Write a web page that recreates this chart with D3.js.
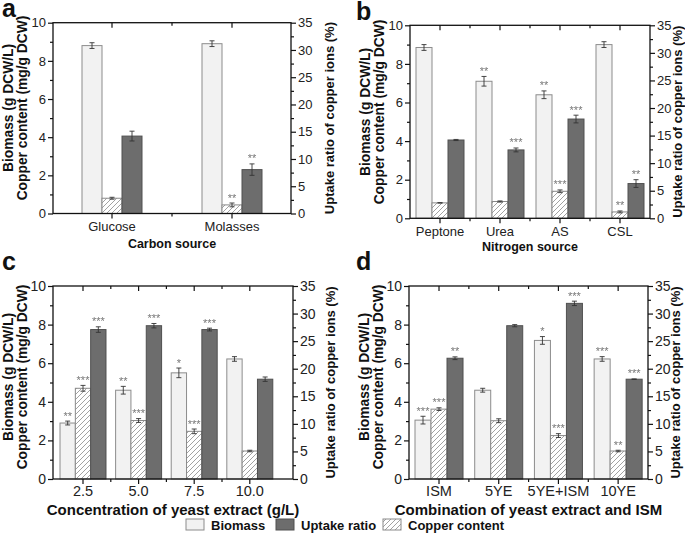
<!DOCTYPE html>
<html><head><meta charset="utf-8">
<script src="https://cdn.jsdelivr.net/npm/d3@7"></script>
<style>body{margin:0;background:#fff}svg{display:block;font-family:"Liberation Sans",Arial,sans-serif}</style>
</head><body><svg id="c" width="685" height="548"></svg>
<script>
// ---------- DATA ----------
const catsA = ["Glucose", "Molasses"];
const biomassA = [8.8, 8.9];
const biomassErrA = [0.15, 0.15];
const copperA = [0.8, 0.45];
const copperErrA = [0.05, 0.1];
const uptakeA = [14.2, 8.05];
const uptakeErrA = [0.9, 1.05];
const sigBiomassA = ["", ""];
const sigCopperA = ["", "**"];
const sigUptakeA = ["", "**"];

const catsB = ["Peptone", "Urea", "AS", "CSL"];
const biomassB = [8.85, 7.1, 6.4, 9.0];
const biomassErrB = [0.15, 0.25, 0.2, 0.15];
const copperB = [0.8, 0.87, 1.4, 0.33];
const copperErrB = [0.01, 0.03, 0.07, 0.05];
const uptakeB = [14.2, 12.4, 18.0, 6.3];
const uptakeErrB = [0.1, 0.35, 0.7, 0.7];
const sigBiomassB = ["", "**", "**", ""];
const sigCopperB = ["", "", "***", "**"];
const sigUptakeB = ["", "***", "***", "**"];

const catsC = ["2.5", "5.0", "7.5", "10.0"];
const biomassC = [2.9, 4.6, 5.5, 6.22];
const biomassErrC = [0.1, 0.2, 0.25, 0.12];
const copperC = [4.7, 3.03, 2.47, 1.45];
const copperErrC = [0.15, 0.1, 0.12, 0.04];
const uptakeC = [27.1, 27.8, 27.1, 18.1];
const uptakeErrC = [0.5, 0.4, 0.25, 0.4];
const sigBiomassC = ["**", "**", "*", ""];
const sigCopperC = ["***", "***", "***", ""];
const sigUptakeC = ["***", "***", "***", ""];

const catsD = ["ISM", "5YE", "5YE+ISM", "10YE"];
const biomassD = [3.05, 4.6, 7.18, 6.22];
const biomassErrD = [0.2, 0.1, 0.2, 0.12];
const copperD = [3.62, 3.02, 2.25, 1.45];
const copperErrD = [0.07, 0.1, 0.1, 0.04];
const uptakeD = [21.9, 27.8, 31.85, 18.1];
const uptakeErrD = [0.25, 0.2, 0.4, 0.05];
const sigBiomassD = ["***", "", "*", "***"];
const sigCopperD = ["***", "", "***", "**"];
const sigUptakeD = ["**", "", "***", "***"];

const leftTicks = [0, 2, 4, 6, 8, 10];
const rightTicks = [0, 5, 10, 15, 20, 25, 30, 35];
const leftTitle1 = "Biomass (g DCW/L)";
const leftTitle2 = "Copper content (mg/g DCW)";
const rightTitle = "Uptake ratio of copper ions (%)";
const legendLabels = ["Biomass", "Uptake ratio", "Copper content"];

// ---------- STYLE ----------
const COL_BIO = "#f2f2f2", COL_BIO_S = "#8c8c8c";
const COL_UP = "#6d6d6d", COL_UP_S = "#505050";
const COL_HATCH = "#8a8a8a";
const COL_ERR = "#333", COL_SIG = "#777";

const svg = d3.select("#c");
const defs = svg.append("defs");
const pat = defs.append("pattern").attr("id", "hatch").attr("patternUnits", "userSpaceOnUse")
  .attr("width", 5).attr("height", 5);
pat.append("rect").attr("width", 5).attr("height", 5).attr("fill", "#fff");
pat.append("path").attr("d", "M-1,1 L1,-1 M0,5 L5,0 M4,6 L6,4")
  .attr("stroke", COL_HATCH).attr("stroke-width", 0.8);
defs.append("filter").attr("id", "gray").append("feColorMatrix").attr("type", "saturate").attr("values", 0);

const panels = [
  {letter: "a", lx: 2, ly: 17, cats: catsA, bio: biomassA, bioE: biomassErrA, cu: copperA, cuE: copperErrA,
   up: uptakeA, upE: uptakeErrA, sB: sigBiomassA, sC: sigCopperA, sU: sigUptakeA,
   fx0: 53, fx1: 291, top: 22.7, bot: 213.5, br: [52, 292], pi: 0.5, po: 0.25,
   xTitle: "Carbon source", ltx: 8, ltcy: 108, rtx: 329,
   yfs: 13, xfs: 13, xpad: 3, xtfs: 12.5, xtdy: 34, ltfs: 13.8},
  {letter: "b", lx: 356, ly: 20, cats: catsB, bio: biomassB, bioE: biomassErrB, cu: copperB, cuE: copperErrB,
   up: uptakeB, upE: uptakeErrB, sB: sigBiomassB, sC: sigCopperB, sU: sigUptakeB,
   fx0: 410, fx1: 650, top: 25.3, bot: 218.3, br: [410, 650], pi: 0.2, po: 0.1,
   xTitle: "Nitrogen source", ltx: 365, ltcy: 112, rtx: 677,
   yfs: 13, xfs: 13, xpad: 3, xtfs: 12.5, xtdy: 33, ltfs: 13.8},
  {letter: "c", lx: 2, ly: 270, cats: catsC, bio: biomassC, bioE: biomassErrC, cu: copperC, cuE: copperErrC,
   up: uptakeC, upE: uptakeErrC, sB: sigBiomassC, sC: sigCopperC, sU: sigUptakeC,
   fx0: 53, fx1: 293, top: 286, bot: 479, br: [55.2, 277.6], pi: 0.173, po: 0.0865,
   xTitle: "Concentration of yeast extract (g/L)", ltx: 8, ltcy: 377, rtx: 330,
   yfs: 14, xfs: 14.5, xpad: 2, xtfs: 15, xtdy: 36, ltfs: 13.8},
  {letter: "d", lx: 356, ly: 270, cats: catsD, bio: biomassD, bioE: biomassErrD, cu: copperD, cuE: copperErrD,
   up: uptakeD, upE: uptakeErrD, sB: sigBiomassD, sC: sigCopperD, sU: sigUptakeD,
   fx0: 409, fx1: 648, top: 286, bot: 479, br: [409.15, 648], pi: 0.196, po: 0.098,
   xTitle: "Combination of yeast extract and ISM", ltx: 364, ltcy: 377, rtx: 675,
   yfs: 14, xfs: 14.5, xpad: 2, xtfs: 15, xtdy: 36, ltfs: 13.8}
];

function drawPanel(p) {
  const g = svg.append("g");
  const x = d3.scaleBand().domain(p.cats).range(p.br).paddingInner(p.pi).paddingOuter(p.po);
  const sub = d3.scaleBand().domain(["bio", "cu", "up"]).range([0, x.bandwidth()]);
  const yL = d3.scaleLinear().domain([0, 10]).range([p.bot, p.top]);
  const yR = d3.scaleLinear().domain([0, 35]).range([p.bot, p.top]);

  const rows = p.cats.map((c, i) => [
    {cat: c, key: "bio", v: p.bio[i], e: p.bioE[i], s: p.sB[i], y: yL},
    {cat: c, key: "cu", v: p.cu[i], e: p.cuE[i], s: p.sC[i], y: yL},
    {cat: c, key: "up", v: p.up[i], e: p.upE[i], s: p.sU[i], y: yR}
  ]).flat();

  const fill = {bio: COL_BIO, cu: "url(#hatch)", up: COL_UP};
  const stroke = {bio: COL_BIO_S, cu: COL_HATCH, up: COL_UP_S};
  const bx = d => x(d.cat) + sub(d.key);
  g.selectAll("rect.bar").data(rows).join("rect").attr("class", "bar")
    .attr("x", bx).attr("width", sub.bandwidth())
    .attr("y", d => d.y(d.v)).attr("height", d => p.bot - d.y(d.v))
    .attr("fill", d => fill[d.key]).attr("stroke", d => stroke[d.key]).attr("stroke-width", 1);

  // error bars
  const eg = g.append("g").attr("stroke", COL_ERR).attr("stroke-width", 0.9);
  const sg = g.append("g").attr("filter", "url(#gray)");
  rows.forEach(d => {
    const cx = bx(d) + sub.bandwidth() / 2;
    const y1 = d.y(d.v + d.e), y2 = d.y(d.v - d.e);
    eg.append("line").attr("x1", cx).attr("x2", cx).attr("y1", y1).attr("y2", y2);
    eg.append("line").attr("x1", cx - 2.5).attr("x2", cx + 2.5).attr("y1", y1).attr("y2", y1);
    eg.append("line").attr("x1", cx - 2.5).attr("x2", cx + 2.5).attr("y1", y2).attr("y2", y2);
    if (d.s) {
      sg.append("text").attr("x", cx).attr("y", y1 - 1.5).attr("text-anchor", "middle")
        .attr("font-size", 11).attr("fill", COL_SIG).text(d.s);
    }
  });

  // frame
  g.append("rect").attr("x", p.fx0).attr("y", p.top).attr("width", p.fx1 - p.fx0)
    .attr("height", p.bot - p.top).attr("fill", "none").attr("stroke", "#111").attr("stroke-width", 1.3);

  const styleAxis = fs => a => {
    a.select(".domain").remove();
    a.selectAll("line").attr("stroke", "#111").attr("stroke-width", 1.2);
    a.selectAll("text").attr("fill", "#222").attr("font-size", fs)
      .attr("font-family", '"Liberation Sans",Arial,sans-serif');
  };
  // left axis
  g.append("g").attr("transform", `translate(${p.fx0},0)`)
    .call(d3.axisLeft(yL).tickValues(leftTicks).tickSize(5).tickPadding(2).tickFormat(d3.format("d"))).call(styleAxis(p.yfs));
  g.append("g").attr("transform", `translate(${p.fx0},0)`)
    .call(d3.axisLeft(yL).tickValues([1, 3, 5, 7, 9]).tickSize(3).tickFormat("")).call(styleAxis(p.yfs));
  // right axis
  g.append("g").attr("transform", `translate(${p.fx1},0)`)
    .call(d3.axisRight(yR).tickValues(rightTicks).tickSize(5).tickPadding(2).tickFormat(d3.format("d"))).call(styleAxis(p.yfs));
  g.append("g").attr("transform", `translate(${p.fx1},0)`)
    .call(d3.axisRight(yR).tickValues([2.5, 7.5, 12.5, 17.5, 22.5, 27.5, 32.5]).tickSize(3).tickFormat("")).call(styleAxis(p.yfs));
  // bottom axis
  g.append("g").attr("transform", `translate(0,${p.bot})`)
    .call(d3.axisBottom(x).tickSize(5).tickPadding(p.xpad)).call(styleAxis(p.xfs));
  g.append("g").attr("transform", `translate(0,${p.top})`)
    .call(d3.axisTop(x).tickSize(-5).tickFormat("")).call(styleAxis(p.xfs));
  // minor x ticks between groups
  const mids = p.cats.slice(1).map((c, i) => (x(p.cats[i]) + x.bandwidth() + x(c)) / 2);
  mids.forEach(m => {
    g.append("line").attr("x1", m).attr("x2", m).attr("y1", p.bot).attr("y2", p.bot + 3).attr("stroke", "#111").attr("stroke-width", 1.2);
    g.append("line").attr("x1", m).attr("x2", m).attr("y1", p.top).attr("y2", p.top + 3).attr("stroke", "#111").attr("stroke-width", 1.2);
  });

  // titles
  const fxc = (p.fx0 + p.fx1) / 2;
  g.append("text").attr("x", fxc).attr("y", p.bot + p.xtdy).attr("text-anchor", "middle")
    .attr("font-size", p.xtfs).attr("font-weight", "bold").attr("fill", "#111").text(p.xTitle);
  [leftTitle1, leftTitle2].forEach((t, i) => {
    g.append("text").attr("transform", `translate(${p.ltx + i * 14 + 4.8},${p.ltcy}) rotate(-90)`)
      .attr("text-anchor", "middle").attr("font-size", p.ltfs).attr("font-weight", "bold").attr("fill", "#111").text(t);
  });
  g.append("text").attr("transform", `translate(${p.rtx + 4.5},${(p.top + p.bot) / 2}) rotate(-90)`)
    .attr("text-anchor", "middle").attr("font-size", 13).attr("font-weight", "bold").attr("fill", "#111").text(rightTitle);
  g.append("text").attr("x", p.lx).attr("y", p.ly).attr("font-size", 25).attr("font-weight", "bold")
    .attr("fill", "#111").text(p.letter);
}
panels.forEach(drawPanel);

// legend
const lg = svg.append("g");
const legendFills = [COL_BIO, COL_UP, "url(#hatch)"];
const legendStrokes = [COL_BIO_S, COL_UP_S, COL_HATCH];
const legendX = [186, 276, 383];
legendLabels.forEach((t, i) => {
  lg.append("rect").attr("x", legendX[i]).attr("y", 519).attr("width", 18).attr("height", 11)
    .attr("fill", legendFills[i]).attr("stroke", legendStrokes[i]);
  lg.append("text").attr("x", legendX[i] + 25).attr("y", 529.5).attr("font-size", 13)
    .attr("font-weight", "bold").attr("fill", "#111").text(t);
});
</script></body></html>
